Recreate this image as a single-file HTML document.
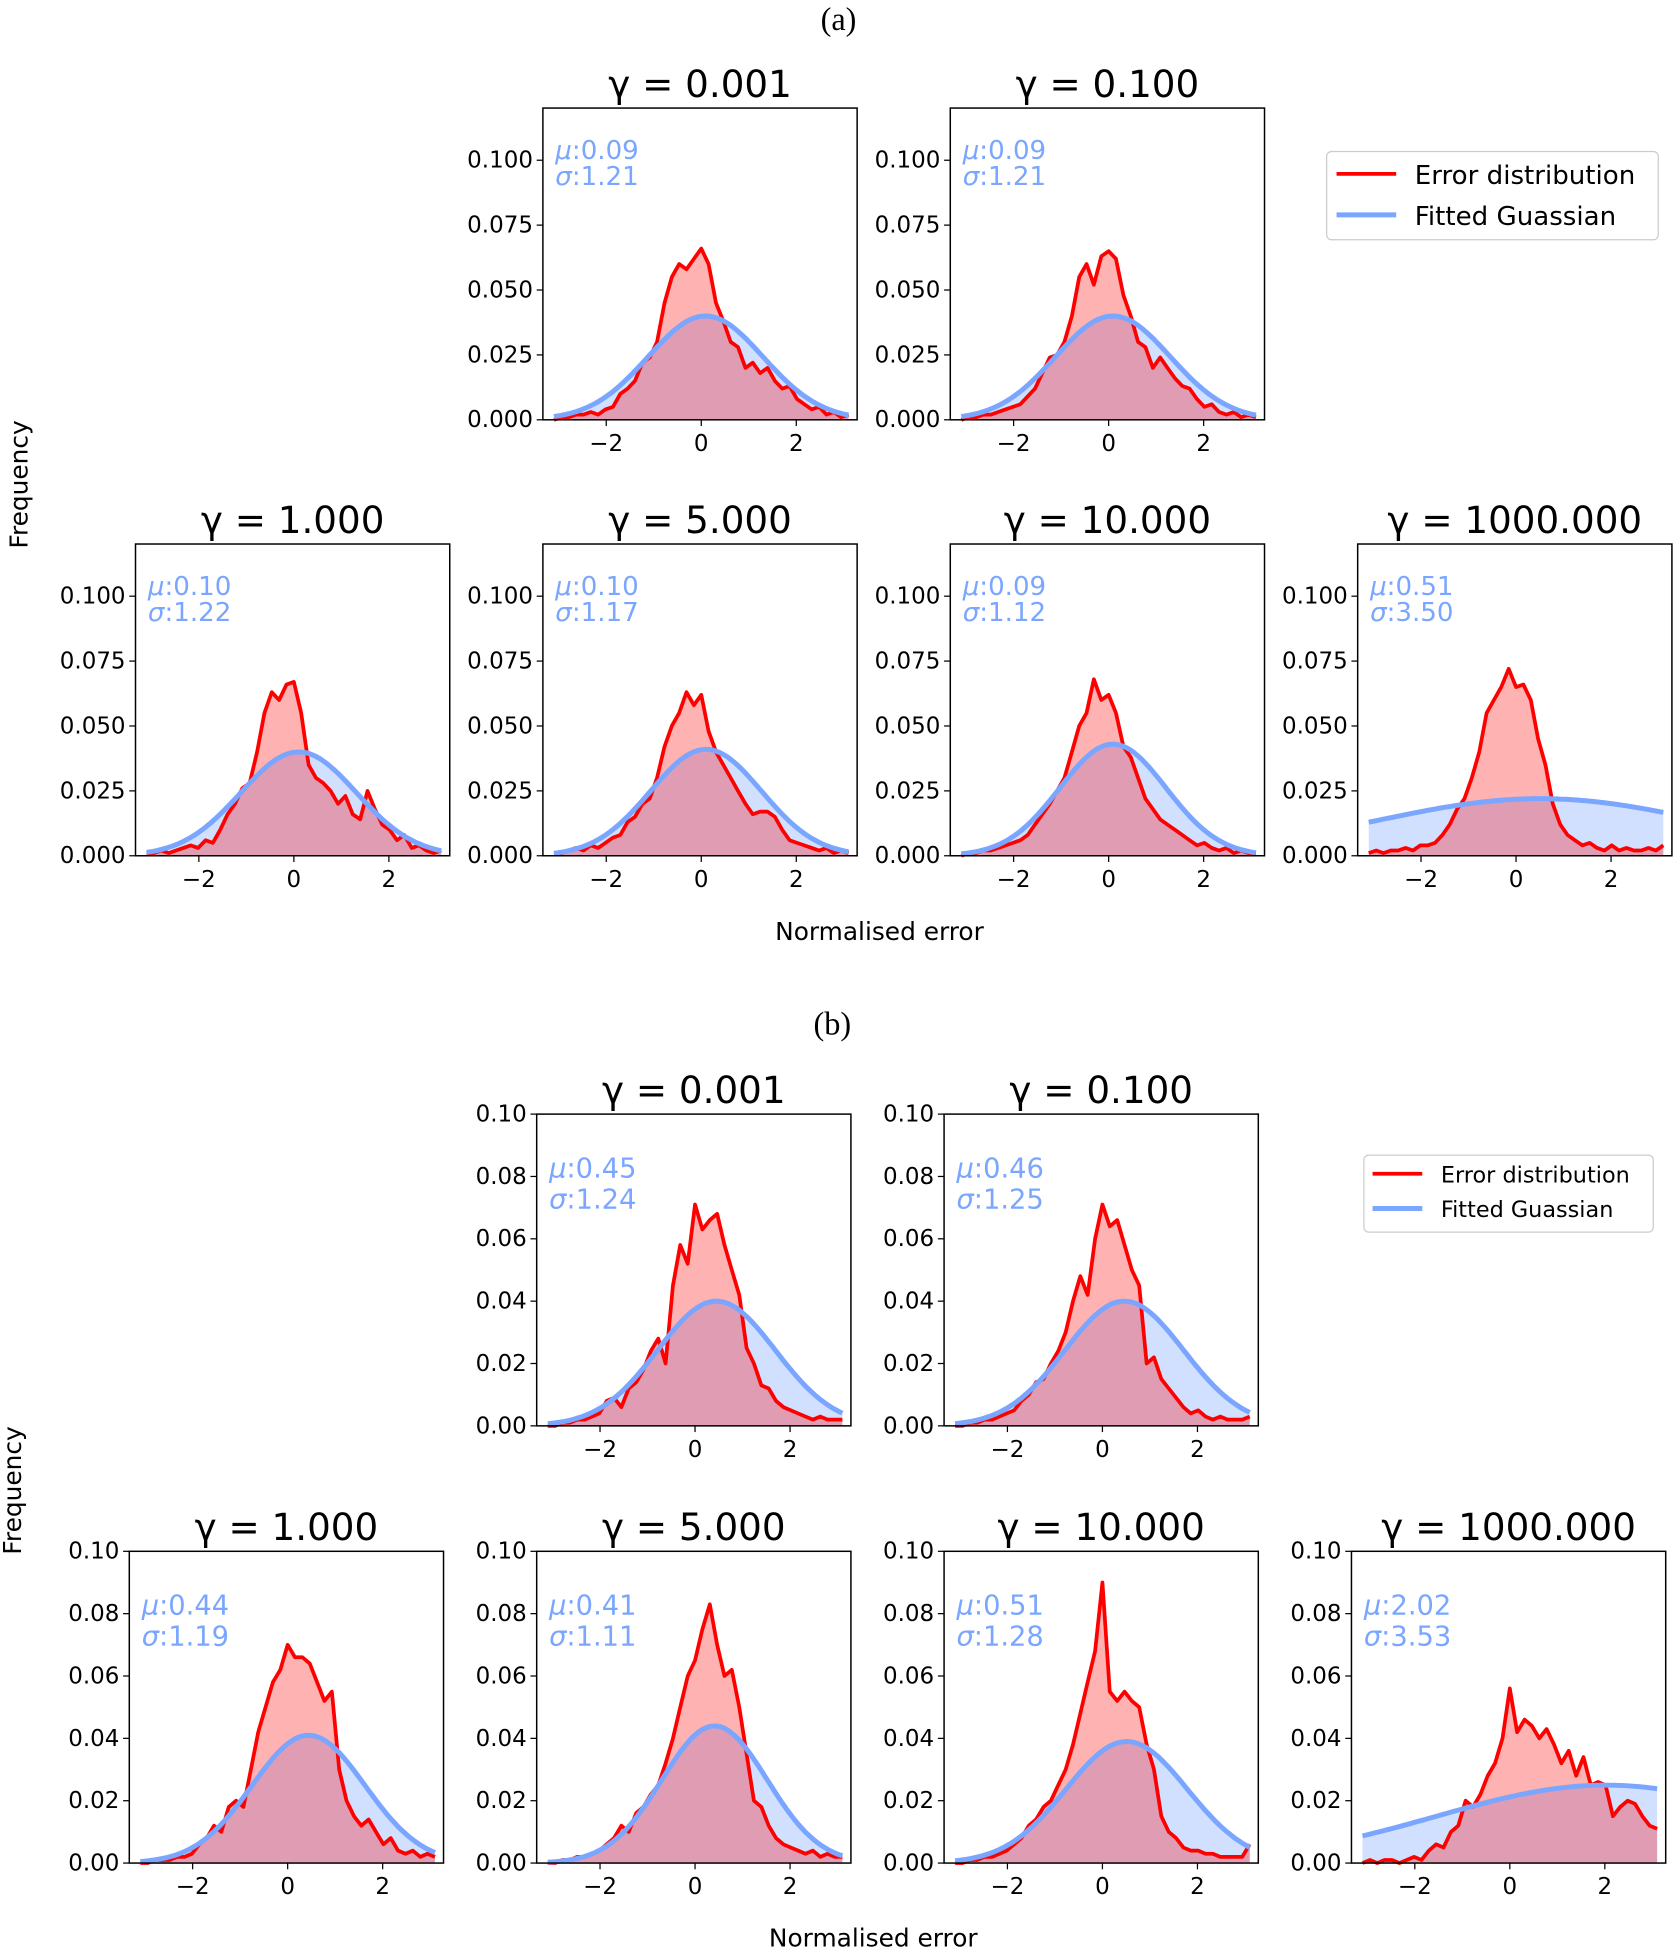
<!DOCTYPE html>
<html><head><meta charset="utf-8"><style>
html,body{margin:0;padding:0;background:#fff}
svg{display:block}
text{font-family:"DejaVu Sans","Liberation Sans",sans-serif}
</style></head><body>
<svg id="chart" width="1677" height="1950" viewBox="0 0 1350 1570" xmlns="http://www.w3.org/2000/svg">
<text x="675" y="24" text-anchor="middle" font-size="26" style="font-family:'Liberation Serif',serif">(a)</text>
<text x="670" y="833" text-anchor="middle" font-size="26" style="font-family:'Liberation Serif',serif">(b)</text>
<text transform="translate(22,390) rotate(-90)" text-anchor="middle" font-size="20">Frequency</text>
<text transform="translate(17,1200) rotate(-90)" text-anchor="middle" font-size="20">Frequency</text>
<text x="708" y="757" text-anchor="middle" font-size="20">Normalised error</text>
<text x="703" y="1567" text-anchor="middle" font-size="20">Normalised error</text>
<g>
<rect x="1068" y="122" width="267" height="71" rx="4" fill="#fff" stroke="#ccc"/>
<line x1="1076" y1="140" x2="1124" y2="140" stroke="#ff0000" stroke-width="3"/>
<line x1="1076" y1="173" x2="1124" y2="173" stroke="#7aa6ff" stroke-width="4"/>
<text x="1139" y="148" font-size="21">Error distribution</text>
<text x="1139" y="181" font-size="21">Fitted Guassian</text>
</g>
<g>
<rect x="1098" y="930" width="233" height="62" rx="4" fill="#fff" stroke="#ccc"/>
<line x1="1105" y1="945" x2="1145" y2="945" stroke="#ff0000" stroke-width="3"/>
<line x1="1105" y1="973" x2="1145" y2="973" stroke="#7aa6ff" stroke-width="4"/>
<text x="1160" y="952" font-size="18">Error distribution</text>
<text x="1160" y="980" font-size="18">Fitted Guassian</text>
</g>
</svg>
<script>
const xGrid = [-3.1,-2.945,-2.79,-2.635,-2.48,-2.325,-2.17,-2.015,-1.86,-1.705,-1.55,-1.395,-1.24,-1.085,-0.93,-0.775,-0.62,-0.465,-0.31,-0.155,0,0.155,0.31,0.465,0.62,0.775,0.93,1.085,1.24,1.395,1.55,1.705,1.86,2.015,2.17,2.325,2.48,2.635,2.79,2.945,3.1];
const gammaLabels = ["0.001","0.100","1.000","5.000","10.000","1000.000"];
const xTicks = [-2,0,2];
const yTicksA = [0,0.025,0.05,0.075,0.1];
const yTickLabelsA = ["0.000","0.025","0.050","0.075","0.100"];
const yTicksB = [0,0.02,0.04,0.06,0.08,0.1];
const yTickLabelsB = ["0.00","0.02","0.04","0.06","0.08","0.10"];
const muA = [0.09,0.09,0.10,0.10,0.09,0.51];
const sigmaA = [1.21,1.21,1.22,1.17,1.12,3.50];
const peakA = [0.040,0.040,0.040,0.041,0.043,0.022];
const muB = [0.45,0.46,0.44,0.41,0.51,2.02];
const sigmaB = [1.24,1.25,1.19,1.11,1.28,3.53];
const peakB = [0.040,0.040,0.041,0.044,0.039,0.025];
const errA1 = [0.000,0.001,0.001,0.002,0.002,0.003,0.002,0.004,0.005,0.010,0.012,0.015,0.022,0.024,0.030,0.045,0.055,0.060,0.058,0.062,0.066,0.060,0.045,0.038,0.030,0.028,0.020,0.022,0.018,0.020,0.015,0.012,0.013,0.008,0.006,0.004,0.005,0.002,0.003,0.001,0.002];
const errA2 = [0.000,0.001,0.001,0.002,0.002,0.003,0.004,0.005,0.006,0.009,0.012,0.018,0.024,0.025,0.030,0.040,0.055,0.060,0.052,0.063,0.065,0.062,0.048,0.040,0.030,0.028,0.020,0.024,0.020,0.016,0.013,0.012,0.008,0.005,0.006,0.003,0.002,0.003,0.001,0.002,0.001];
const errA3 = [0.001,0.001,0.002,0.001,0.002,0.003,0.004,0.003,0.006,0.005,0.010,0.016,0.020,0.026,0.028,0.040,0.055,0.063,0.060,0.066,0.067,0.055,0.035,0.030,0.028,0.025,0.020,0.023,0.016,0.014,0.025,0.018,0.012,0.010,0.006,0.008,0.003,0.004,0.002,0.001,0.002];
const errA4 = [0.001,0.001,0.002,0.003,0.002,0.004,0.003,0.005,0.007,0.008,0.013,0.015,0.020,0.022,0.030,0.042,0.050,0.055,0.063,0.058,0.062,0.048,0.040,0.035,0.030,0.025,0.020,0.016,0.017,0.017,0.015,0.010,0.006,0.005,0.004,0.003,0.002,0.003,0.001,0.002,0.001];
const errA5 = [0.000,0.001,0.001,0.002,0.002,0.003,0.004,0.005,0.006,0.008,0.012,0.016,0.020,0.025,0.030,0.040,0.050,0.055,0.068,0.060,0.062,0.055,0.042,0.038,0.030,0.022,0.018,0.014,0.012,0.010,0.008,0.006,0.004,0.005,0.003,0.002,0.003,0.001,0.002,0.001,0.001];
const errA6 = [0.001,0.002,0.001,0.002,0.002,0.003,0.002,0.004,0.004,0.005,0.008,0.012,0.018,0.022,0.030,0.040,0.055,0.060,0.065,0.072,0.065,0.066,0.060,0.045,0.035,0.020,0.012,0.008,0.006,0.004,0.005,0.003,0.002,0.004,0.002,0.003,0.002,0.002,0.003,0.002,0.004];
const errB1 = [0.000,0.000,0.001,0.001,0.002,0.002,0.003,0.004,0.008,0.009,0.006,0.012,0.014,0.018,0.024,0.028,0.020,0.045,0.058,0.052,0.071,0.063,0.066,0.068,0.058,0.050,0.042,0.025,0.020,0.013,0.012,0.008,0.006,0.005,0.004,0.003,0.002,0.003,0.002,0.002,0.002];
const errB2 = [0.000,0.000,0.001,0.001,0.002,0.002,0.003,0.004,0.005,0.008,0.010,0.014,0.015,0.020,0.024,0.030,0.040,0.048,0.042,0.060,0.071,0.064,0.066,0.058,0.050,0.045,0.020,0.022,0.015,0.012,0.009,0.006,0.004,0.005,0.003,0.002,0.003,0.002,0.002,0.002,0.003];
const errB3 = [0.000,0.000,0.001,0.001,0.001,0.002,0.002,0.003,0.006,0.008,0.012,0.010,0.018,0.020,0.018,0.030,0.042,0.050,0.058,0.062,0.070,0.066,0.066,0.064,0.058,0.052,0.055,0.030,0.020,0.015,0.012,0.014,0.010,0.006,0.008,0.004,0.003,0.004,0.002,0.003,0.002];
const errB4 = [0.000,0.000,0.001,0.001,0.002,0.002,0.003,0.004,0.006,0.008,0.012,0.010,0.016,0.018,0.022,0.025,0.032,0.040,0.050,0.060,0.065,0.075,0.083,0.070,0.060,0.062,0.050,0.035,0.020,0.018,0.012,0.008,0.006,0.005,0.004,0.003,0.004,0.002,0.003,0.002,0.002];
const errB5 = [0.000,0.000,0.001,0.001,0.002,0.002,0.003,0.004,0.006,0.008,0.012,0.014,0.018,0.020,0.025,0.030,0.038,0.048,0.058,0.068,0.090,0.055,0.052,0.055,0.052,0.050,0.038,0.030,0.015,0.010,0.008,0.005,0.004,0.004,0.003,0.003,0.002,0.002,0.002,0.002,0.006];
const errB6 = [0.000,0.001,0.000,0.001,0.001,0.000,0.001,0.002,0.001,0.004,0.006,0.005,0.010,0.012,0.020,0.018,0.022,0.028,0.032,0.040,0.056,0.042,0.046,0.044,0.040,0.043,0.038,0.032,0.036,0.028,0.034,0.025,0.026,0.025,0.015,0.018,0.020,0.019,0.015,0.012,0.011];

const NS = "http://www.w3.org/2000/svg";
const svg = document.getElementById('chart');
function mk(tag, attrs, parent){const e=document.createElementNS(NS,tag);for(const k in attrs)e.setAttribute(k,attrs[k]);(parent||svg).appendChild(e);return e;}

const W = 253, H = 251;
const layoutA = [[437,87],[765,87],[109,438],[437,438],[765,438],[1093,438]];
const layoutB = [[432,897],[760,897],[104,1249],[432,1249],[760,1249],[1088,1249]];

function statText(g, x, y, size, sym, val){
  const t = mk('text', {x: x, y: y, 'font-size': size, fill: '#7aa6ff'}, g);
  const a = mk('tspan', {'font-style': 'italic'}, t); a.textContent = sym;
  const b = mk('tspan', {}, t); b.textContent = ':' + val;
  return t;
}

function drawPanel(fig, i, x0, y0, err, mu, sig, peak, ymax, yT, yL, statSize, statY){
  const g = mk('g', {});
  
  
  const xs = v => x0 + 51 + (v + 2) * 38.25;
  const ys = v => y0 + H - v / ymax * H;
  const gx = []; for (let k = 0; k <= 80; k++) gx.push(-3.1 + 6.2 * k / 80);
  const gpts = gx.map(v => [xs(v), ys(peak * Math.exp(-((v - mu) ** 2) / (2 * sig * sig)))]);
  const gd = gpts.map((p, k) => (k ? 'L' : 'M') + p[0].toFixed(1) + ',' + p[1].toFixed(1)).join('');
  const base = ys(0);
  const gf = mk('path', {d: gd + 'L' + xs(3.1) + ',' + base + 'L' + xs(-3.1) + ',' + base + 'Z', fill: '#7aa6ff', 'fill-opacity': 0.35}, g);
  
  
  const rpts = xGrid.map((v, k) => [xs(v), ys(err[k])]);
  const rd = rpts.map((p, k) => (k ? 'L' : 'M') + p[0].toFixed(1) + ',' + p[1].toFixed(1)).join('');
  const rf = mk('path', {d: rd + 'L' + xs(3.1) + ',' + base + 'L' + xs(-3.1) + ',' + base + 'Z', fill: '#ff0000', 'fill-opacity': 0.3}, g);
  
  
  const rl = mk('path', {d: rd, fill: 'none', stroke: '#ff0000', 'stroke-width': 3, 'stroke-linejoin': 'round'}, g);
  
  
  const gl = mk('path', {d: gd, fill: 'none', stroke: '#7aa6ff', 'stroke-width': 4}, g);
  
  
  const frame = mk('rect', {x: x0, y: y0, width: W, height: H, fill: 'none', stroke: '#000', 'stroke-width': 1.2}, g);
  
  
  xTicks.forEach(t => {
    mk('line', {x1: xs(t), x2: xs(t), y1: y0 + H, y2: y0 + H + 5, stroke: '#000'}, g);
    const tx = mk('text', {x: xs(t), y: y0 + H + 25, 'text-anchor': 'middle', 'font-size': 18.5}, g);
    tx.textContent = (t < 0 ? '\u2212' + (-t) : '' + t);
    
    
  });
  yT.forEach((t, k) => {
    mk('line', {x1: x0 - 5, x2: x0, y1: ys(t), y2: ys(t), stroke: '#000'}, g);
    const ty = mk('text', {x: x0 - 8, y: ys(t) + 6, 'text-anchor': 'end', 'font-size': 18.5}, g);
    ty.textContent = yL[k];
    
    
  });
  const title = mk('text', {x: x0 + W / 2, y: y0 - 9, 'text-anchor': 'middle', 'font-size': 30}, g);
  title.textContent = '\u03B3 = ' + gammaLabels[i];
  
  
  const s1 = statText(g, x0 + 10, y0 + statY[0], statSize, '\u03BC', mu.toFixed(2));
  
  
  const s2 = statText(g, x0 + 10, y0 + statY[1], statSize, '\u03C3', sig.toFixed(2));
  
  
}
const errsA = [errA1,errA2,errA3,errA4,errA5,errA6];
const errsB = [errB1,errB2,errB3,errB4,errB5,errB6];
for (let i = 0; i < 6; i++) {
  drawPanel('a', i, layoutA[i][0], layoutA[i][1], errsA[i], muA[i], sigmaA[i], peakA[i], 0.1201, yTicksA, yTickLabelsA, 21, [41, 62]);
  drawPanel('b', i, layoutB[i][0], layoutB[i][1], errsB[i], muB[i], sigmaB[i], peakB[i], 0.1, yTicksB, yTickLabelsB, 22, [51, 76]);
}
</script>
</body></html>
